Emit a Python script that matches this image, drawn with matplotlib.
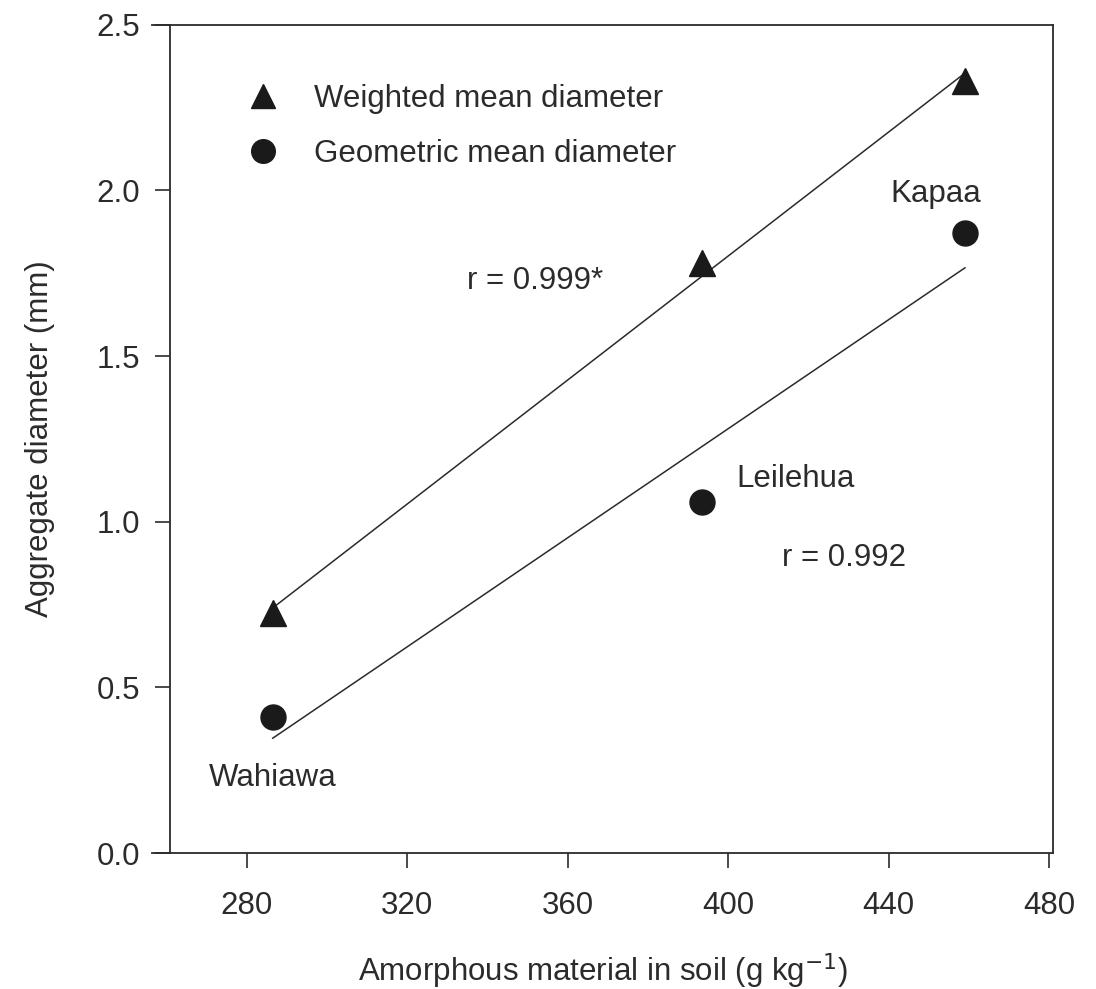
import numpy as np
import matplotlib
matplotlib.use("Agg")
import matplotlib.pyplot as plt
from matplotlib.lines import Line2D

plt.rcParams['font.family'] = ['Liberation Sans', 'DejaVu Sans']

# data
amorphous = [286.5, 393.5, 459.0]
wmd = [0.725, 1.78, 2.33]        # weighted mean diameter
gmd = [0.41, 1.06, 1.87]         # geometric mean diameter
sites = ['Wahiawa', 'Leilehua', 'Kapaa']
x_ticks = [280, 320, 360, 400, 440, 480]
y_ticks = [0.0, 0.5, 1.0, 1.5, 2.0, 2.5]

ink = '#2b2b2b'
fs = 22.5

fig = plt.figure(figsize=(10.96, 9.89), dpi=100)
ax = fig.add_axes([0.139, 0.1375, 0.822, 0.8375])

ax.plot(amorphous, wmd, '^', color='#1a1a1a', ms=19, zorder=3)
ax.plot(amorphous, gmd, 'o', color='#1a1a1a', ms=18, zorder=3)

# regression lines over the data range
xs = np.array([min(amorphous), max(amorphous)])
for ys in (wmd, gmd):
    k, b = np.polyfit(amorphous, ys, 1)
    ax.plot(xs, k * xs + b, color=ink, lw=1.1, zorder=2)

ax.set_xlim(256.5, 481)
ax.set_ylim(0, 2.5)
ax.spines['left'].set_position(('data', 260.8))
for s in ax.spines.values():
    s.set_color(ink)
    s.set_linewidth(1.3)
ax.set_xticks(x_ticks)
ax.set_yticks(y_ticks)
ax.set_yticklabels([f'{v:.1f}' for v in y_ticks])
ax.tick_params(direction='out', length=11, width=1.2, color=ink,
               labelcolor=ink, labelsize=fs)
ax.tick_params(axis='x', pad=16)
ax.tick_params(axis='y', pad=10)

ax.set_xlabel('Amorphous material in soil (g kg$^{-1}$)', fontsize=fs,
              color=ink, labelpad=22)
ax.set_ylabel('Aggregate diameter (mm)', fontsize=fs, color=ink, labelpad=30)

# site labels and correlation coefficients
ax.text(270.5, 0.226, sites[0], fontsize=fs, color=ink, va='center')
ax.text(402, 1.13, sites[1], fontsize=fs, color=ink, va='center')
ax.text(440.5, 1.99, sites[2], fontsize=fs, color=ink, va='center')
ax.text(335, 1.726, 'r = 0.999*', fontsize=fs, color=ink, va='center')
ax.text(413.5, 0.89, 'r = 0.992', fontsize=fs, color=ink, va='center')

handles = [
    Line2D([], [], marker='^', ls='none', color='#1a1a1a', ms=17),
    Line2D([], [], marker='o', ls='none', color='#1a1a1a', ms=17),
]
ax.legend(handles, ['Weighted mean diameter', 'Geometric mean diameter'],
          loc='upper left', bbox_to_anchor=(0.074, 0.962), frameon=False,
          fontsize=fs, labelcolor=ink, handlelength=1.0,
          handletextpad=1.15, labelspacing=0.8)

fig.savefig('out.png', dpi=100)
